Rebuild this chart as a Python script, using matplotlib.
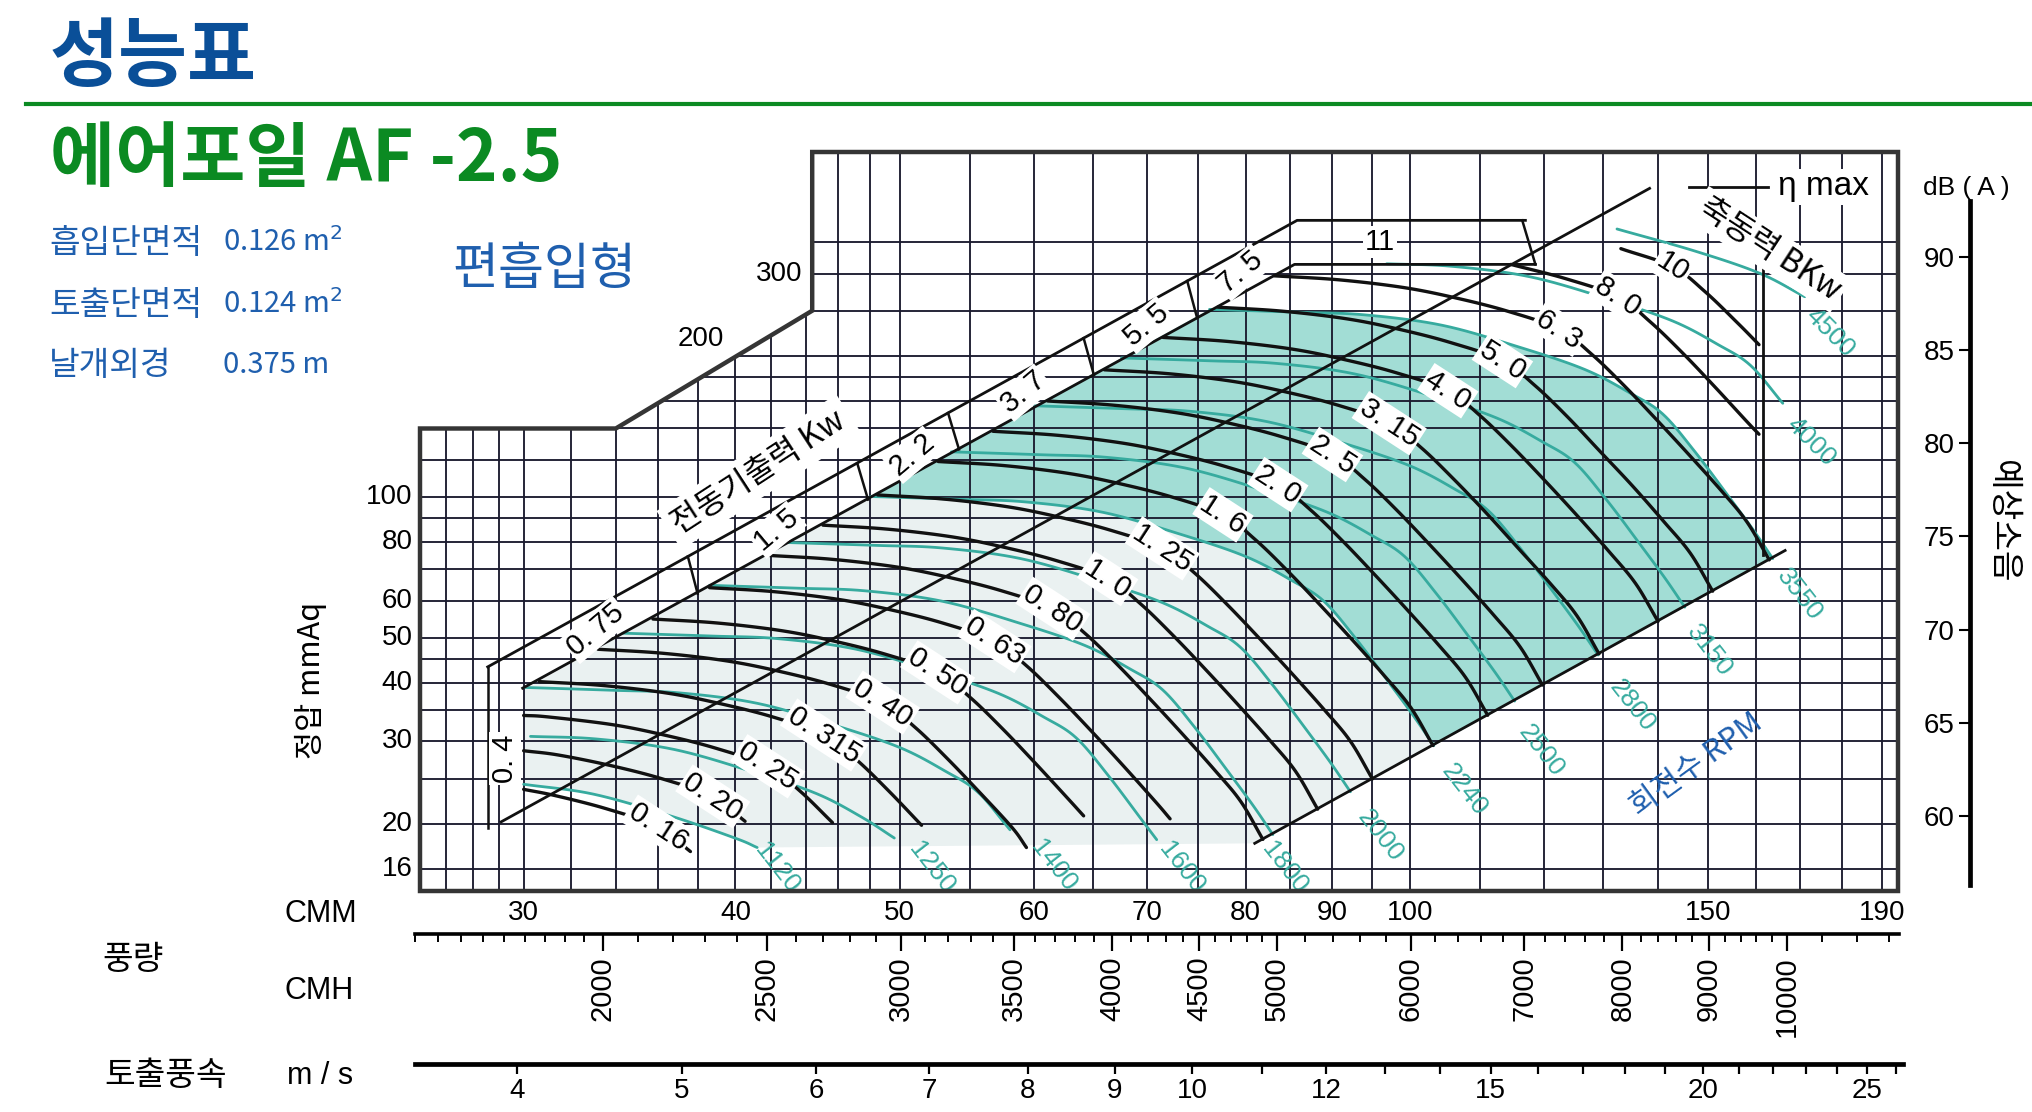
import numpy as np
import matplotlib
matplotlib.use("Agg")
import matplotlib.pyplot as plt
from matplotlib.patches import Polygon
from matplotlib.ticker import NullFormatter

# ---------------- chart data ----------------
grid_q = [27, 28, 29, 30, 32, 34, 36, 38, 40, 42, 44, 46, 48, 50, 55, 60, 65, 70, 75, 80,
          85, 90, 95, 100, 110, 120, 130, 140, 150, 160, 170, 180, 190]
grid_p = [16, 20, 25, 30, 35, 40, 45, 50, 60, 70, 80, 90, 100, 120, 140, 160, 180, 200,
          250, 300, 350]

cmm_ticks = [30, 40, 50, 60, 70, 80, 90, 100, 150, 190]
mmaq_ticks_low = [16, 20, 30, 40, 50, 60, 80, 100]
mmaq_ticks_high = [200, 300]
cmh_major = [2000, 2500, 3000, 3500, 4000, 4500, 5000, 6000, 7000, 8000, 9000, 10000]
cmh_minor = [1550, 1600, 1650, 1700, 1750, 1800, 1850, 1900, 1950, 2100, 2200, 2300, 2400,
             2600, 2700, 2800, 2900, 3100, 3200, 3300, 3400, 3600, 3700, 3800, 3900,
             4100, 4200, 4300, 4400, 4600, 4700, 4800, 4900, 5200, 5400, 5600, 5800,
             6200, 6400, 6600, 6800, 7200, 7400, 7600, 7800, 8200, 8400, 8600, 8800,
             9200, 9400, 9600, 9800, 10500, 11000, 11500]
ms_major = [4, 5, 6, 7, 8, 9, 10, 12, 15, 20, 25]
ms_minor = [11, 13, 14, 16, 17, 18, 19, 21, 22, 23, 24, 26]
db_ticks = [60, 65, 70, 75, 80, 85, 90]

# teal constant-speed curves (RPM): CMM, mmAq
rpm_1120_q = [30.0, 32.98, 36.66, 40.02, 41.2]
rpm_1120_p = [24.3, 23.15, 20.77, 18.62, 17.8]
rpm_1250_q = [30.28, 33.11, 36.81, 40.91, 44.67, 47.50, 49.64]
rpm_1250_p = [30.76, 30.37, 28.84, 25.87, 23.20, 20.66, 18.65]
rpm_1400_q = [30.04, 33.91, 37.08, 41.23, 45.82, 50.03, 53.20, 55.60, 58.09]
rpm_1400_p = [39.14, 38.59, 38.10, 36.18, 32.45, 29.10, 25.92, 23.39, 19.42]
rpm_1600_q = [34.33, 38.76, 42.38, 47.12, 52.36, 57.18, 60.80, 63.54, 66.39, 69.38, 70.9]
rpm_1600_p = [51.12, 50.40, 49.76, 47.25, 42.39, 38.01, 33.85, 30.56, 25.36, 20.53, 18.5]
rpm_1800_q = [38.62, 43.60, 47.68, 53.01, 58.91, 64.32, 68.40, 71.48, 74.69, 78.05, 80.84, 83.02]
rpm_1800_p = [64.70, 63.78, 62.98, 59.80, 53.64, 48.11, 42.84, 38.67, 32.10, 25.98, 21.86, 18.97]
rpm_2000_q = [42.91, 48.45, 52.98, 58.90, 65.46, 71.47, 76.00, 79.42, 82.99, 86.72, 89.82, 92.24]
rpm_2000_p = [79.87, 78.75, 77.75, 73.83, 66.23, 59.39, 52.89, 47.74, 39.63, 32.08, 26.98, 23.42]
rpm_2240_q = [48.06, 54.26, 59.33, 65.96, 73.31, 80.05, 85.12, 88.95, 92.95, 97.13, 100.60, 103.31]
rpm_2240_p = [100.19, 98.78, 97.53, 92.61, 83.08, 74.50, 66.35, 59.89, 49.71, 40.24, 33.85, 29.38]
rpm_2500_q = [53.64, 60.56, 66.22, 73.62, 81.82, 89.34, 95.00, 99.28, 103.74, 108.40, 112.28, 115.30]
rpm_2500_p = [124.8, 123.04, 121.48, 115.36, 103.48, 92.80, 82.64, 74.60, 61.92, 50.12, 42.16, 36.60]
rpm_2800_q = [60.08, 67.83, 74.17, 82.45, 91.64, 100.06, 106.40, 111.19, 116.19, 121.41, 125.75, 129.14]
rpm_2800_p = [156.55, 154.34, 152.38, 144.71, 129.81, 116.41, 103.66, 93.58, 77.67, 62.87, 52.89, 45.91]
rpm_3150_q = [67.59, 76.31, 83.44, 92.76, 103.09, 112.57, 119.70, 125.09, 130.71, 136.58, 141.47, 145.28]
rpm_3150_p = [198.13, 195.34, 192.86, 183.15, 164.28, 147.33, 131.20, 118.44, 98.30, 79.57, 66.93, 58.11]
rpm_3550_q = [76.17, 86.00, 94.03, 104.54, 116.18, 126.86, 134.90, 140.98, 147.31, 153.93, 159.44, 163.73]
rpm_3550_p = [251.65, 248.10, 244.95, 232.61, 208.66, 187.12, 166.64, 150.42, 124.86, 101.06, 85.01, 73.80]
rpm_4000_q = [96.90, 105.95, 117.79, 130.91, 142.94, 152.0, 158.85, 165.98]
rpm_4000_p = [314.98, 311.0, 295.3, 264.9, 237.6, 211.6, 191.0, 158.5]
rpm_4500_q = [132.5, 147.3, 160.8, 171.0]
rpm_4500_p = [373.8, 335.3, 300.7, 267.8]

rpm_names = ["1120", "1250", "1400", "1600", "1800", "2000", "2240", "2500", "2800",
             "3150", "3550", "4000", "4500"]
rpm_label_q = [42.3, 52.2, 61.6, 73.3, 84.3, 96.0, 107.6, 119.6, 135.2, 150.2, 169.8, 172.5, 177.0]
rpm_label_p = [16.1, 16.1, 16.3, 16.1, 16.1, 18.9, 23.6, 28.6, 35.8, 46.9, 61.8, 131.0, 224.0]

# black shaft-power curves (BKw)
bkw_016_q = [30.0, 31.30, 33.57, 36.01, 37.63]
bkw_016_p = [23.7, 22.99, 21.54, 19.72, 17.45]
bkw_020_q = [30.0, 31.42, 33.71, 36.16, 38.79, 40.53]
bkw_020_p = [28.66, 28.08, 26.68, 25.00, 22.88, 20.25]
bkw_025_q = [30.0, 30.99, 33.84, 36.32, 38.96, 41.79, 43.67, 45.64]
bkw_025_p = [34.1, 33.86, 32.59, 30.96, 29.01, 26.55, 23.50, 20.12]
bkw_0315_q = [30.65, 33.47, 36.55, 39.22, 42.08, 45.13, 47.16, 49.29, 51.51]
bkw_0315_p = [40.28, 39.49, 38.01, 36.11, 33.85, 30.97, 27.41, 23.47, 19.86]
bkw_040_q = [33.19, 36.24, 39.58, 42.48, 45.56, 48.87, 51.07, 53.37, 55.78, 58.28, 59.4]
bkw_040_p = [47.23, 46.31, 44.57, 42.35, 39.69, 36.32, 32.14, 27.53, 23.29, 19.60, 17.8]
bkw_050_q = [35.76, 39.04, 42.64, 45.76, 49.08, 52.65, 55.01, 57.50, 60.08, 62.78, 64.2]
bkw_050_p = [54.81, 53.74, 51.72, 49.14, 46.05, 42.15, 37.30, 31.94, 27.03, 22.74, 20.8]
bkw_063_q = [38.62, 42.17, 46.05, 49.42, 53.02, 56.86, 59.42, 62.10, 64.90, 67.81, 70.86, 72.2]
bkw_063_p = [63.95, 62.70, 60.34, 57.33, 53.73, 49.17, 43.51, 37.26, 31.53, 26.53, 22.20, 20.5]
bkw_080_q = [41.82, 45.66, 49.87, 53.52, 57.41, 61.57, 64.34, 67.25, 70.27, 73.43, 76.73, 79.48, 81.90]
bkw_080_p = [74.98, 73.51, 70.75, 67.22, 63.00, 57.65, 51.02, 43.69, 36.97, 31.11, 26.03, 22.32, 18.53]
bkw_100_q = [45.05, 49.19, 53.72, 57.65, 61.84, 66.33, 69.31, 72.44, 75.70, 79.10, 82.66, 85.62, 88.23]
bkw_100_p = [87.0, 85.3, 82.1, 78.0, 73.1, 66.9, 59.2, 50.7, 42.9, 36.1, 30.2, 25.9, 21.5]
bkw_125_q = [48.53, 52.99, 57.87, 62.10, 66.61, 71.45, 74.66, 78.03, 81.54, 85.21, 89.04, 92.23, 95.04]
bkw_125_p = [100.95, 98.98, 95.27, 90.51, 84.83, 77.63, 68.70, 58.83, 49.78, 41.89, 35.04, 30.05, 24.95]
bkw_160_q = [52.69, 57.53, 62.83, 67.43, 72.33, 77.58, 81.07, 84.73, 88.54, 92.52, 96.68, 100.14, 103.19]
bkw_160_p = [119.0, 116.7, 112.3, 106.7, 100.0, 91.52, 80.99, 69.36, 58.69, 49.38, 41.31, 35.43, 29.41]
bkw_200_q = [56.76, 61.97, 67.68, 72.63, 77.91, 83.57, 87.32, 91.27, 95.37, 99.66, 104.14, 107.87, 111.16]
bkw_200_p = [138.1, 135.4, 130.3, 123.8, 116.0, 106.2, 93.97, 80.48, 68.10, 57.31, 47.94, 41.11, 34.13]
bkw_250_q = [61.14, 66.76, 72.91, 78.24, 83.93, 90.02, 94.07, 98.32, 102.74, 107.36, 112.19, 116.20, 119.75]
bkw_250_p = [160.3, 157.1, 151.2, 143.7, 134.6, 123.2, 109.0, 93.39, 79.02, 66.50, 55.63, 47.71, 39.60]
bkw_315_q = [66.03, 72.10, 78.74, 84.50, 90.65, 97.23, 101.6, 106.2, 111.0, 115.9, 121.2, 125.5, 129.3]
bkw_315_p = [186.9, 183.3, 176.4, 167.6, 157.1, 143.7, 127.2, 108.9, 92.17, 77.56, 64.89, 55.65, 46.19]
bkw_400_q = [71.51, 78.08, 85.27, 91.51, 98.17, 105.3, 110.0, 115.0, 120.2, 125.6, 131.2, 135.9, 140.1]
bkw_400_p = [219.2, 214.9, 206.9, 196.5, 184.2, 168.6, 149.2, 127.8, 108.1, 90.96, 76.10, 65.26, 54.18]
bkw_500_q = [77.04, 84.11, 91.86, 98.58, 105.7, 113.4, 118.5, 123.9, 129.4, 135.3, 141.3, 146.4, 150.9]
bkw_500_p = [254.4, 249.4, 240.1, 228.1, 213.7, 195.6, 173.1, 148.2, 125.4, 105.6, 88.30, 75.73, 62.87]
bkw_630_q = [83.20, 90.85, 99.22, 106.5, 114.2, 122.5, 128.0, 133.8, 139.8, 146.1, 152.7, 158.1, 162.95]
bkw_630_p = [296.8, 291.0, 280.1, 266.1, 249.4, 228.2, 201.9, 172.9, 146.3, 123.1, 103.0, 88.35, 73.34]
bkw_800_q = [114.7, 123.7, 132.7, 138.6, 144.9, 151.4, 158.2, 160.7]
bkw_800_p = [314.0, 292.4, 267.6, 236.8, 202.8, 171.6, 144.4, 136.1]
bkw_1000_q = [133.2, 142.9, 149.3, 156.1, 160.7]
bkw_1000_p = [339.3, 310.5, 274.8, 235.3, 211.5]

bkw_names = ["0. 16", "0. 20", "0. 25", "0. 315", "0. 40", "0. 50", "0. 63", "0. 80", "1. 0",
             "1. 25", "1. 6", "2. 0", "2. 5", "3. 15", "4. 0", "5. 0", "6. 3", "8. 0", "10"]
bkw_label_q = [36.01, 38.79, 41.79, 45.13, 48.87, 52.65, 56.86, 61.57, 66.33, 71.45, 77.58,
               83.57, 90.02, 97.23, 105.3, 113.4, 122.5, 132.7, 142.9]
bkw_label_p = [19.72, 22.88, 26.55, 30.97, 36.32, 42.15, 49.17, 57.65, 66.9, 77.63, 91.52,
               106.2, 123.2, 143.7, 168.6, 195.6, 228.2, 267.6, 310.5]

# motor output band (전동기출력 Kw)
motor_names = ["0. 4", "0. 75", "1. 5", "2. 2", "3. 7", "5. 5", "7. 5", "11"]
motor_label_q = [29.25, 33.1, 42.3, 50.9, 59.2, 69.9, 79.5, 96.0]
motor_label_p = [27.6, 52.0, 85.0, 123.0, 167.0, 233.0, 302.0, 350.0]
band_upper_q = [28.57, 85.8, 117.0]
band_upper_p = [43.3, 390.0, 390.0]
band_lower_q = [29.96, 85.5, 118.6]
band_lower_p = [39.0, 314.0, 314.0]
band_tick_q_top = [37.5, 47.2, 53.4, 64.2, 73.9, 116.5]
band_tick_q_bot = [38.0, 47.9, 54.2, 65.1, 74.9, 118.6]
BAND_UP_K = 0.053
BAND_LO_K = 0.043

# other straight lines
eta_q = [29.1, 138.5]
eta_p = [20.2, 456.5]
diag_q = [81.0, 166.5]
diag_p = [18.17, 76.8]

# ---------------- figure geometry ----------------
W, H = 2032, 1112
L, R, T, B = 420, 1898, 152, 891
Q_LEFT, Q_RIGHT, P_BOT, P_TOP = 26.06, 194.1, 14.37, 546.0

KR = ['Noto Sans CJK KR', 'DejaVu Sans']
NUM = ['Liberation Sans', 'DejaVu Sans']
plt.rcParams['font.family'] = KR

BLUE = '#0a4f98'
BLUE2 = '#1f5fae'
GREEN = '#0b8a22'
TEAL = '#37ab9f'
GRID = '#1c1c30'
INK = '#111111'

fig = plt.figure(figsize=(W / 100, H / 100), dpi=100)


def ftext(x, y, s, **kw):
    return fig.text(x / W, 1 - y / H, s, **kw)


def smooth(q, p, n=10):
    x = np.log10(np.asarray(q, float))
    y = np.log10(np.asarray(p, float))
    if len(x) < 3:
        return 10 ** x, 10 ** y
    P = np.column_stack([x, y])
    P = np.vstack([2 * P[0] - P[1], P, 2 * P[-1] - P[-2]])
    out = []
    for i in range(1, len(P) - 2):
        p0, p1, p2, p3 = P[i - 1], P[i], P[i + 1], P[i + 2]
        for t in np.linspace(0, 1, n, endpoint=False):
            out.append(0.5 * (2 * p1 + (-p0 + p2) * t + (2 * p0 - 5 * p1 + 4 * p2 - p3) * t * t
                              + (-p0 + 3 * p1 - 3 * p2 + p3) * t ** 3))
    out.append(P[-2])
    out = np.array(out)
    return 10 ** out[:, 0], 10 ** out[:, 1]


# ---------------- header texts ----------------
ftext(50, 58, '성능표', fontsize=54, fontweight='bold', color=BLUE, va='center', ha='left')
fig.add_artist(plt.Line2D([26 / W, 1.0], [1 - 104 / H, 1 - 104 / H], color=GREEN, lw=3.0))
ftext(50, 160, '에어포일 AF -2.5', fontsize=51, fontweight='bold', color=GREEN, va='center', ha='left')
ftext(49, 243, '흡입단면적', fontsize=24, color=BLUE2, va='center')
ftext(223, 243, '0.126 m$^2$', fontsize=21, color=BLUE2, va='center')
ftext(49, 305, '토출단면적', fontsize=24, color=BLUE2, va='center')
ftext(223, 305, '0.124 m$^2$', fontsize=21, color=BLUE2, va='center')
ftext(49, 365, '날개외경', fontsize=24, color=BLUE2, va='center')
ftext(223, 365, '0.375 m', fontsize=21, color=BLUE2, va='center')
ftext(452, 270, '편흡입형', fontsize=36, color=BLUE2, va='center')

# ---------------- main chart axes ----------------
ax = fig.add_axes([L / W, 1 - B / H, (R - L) / W, (B - T) / H])
ax.set_xscale('log')
ax.set_yscale('log')
ax.set_xlim(Q_LEFT, Q_RIGHT)
ax.set_ylim(P_BOT, P_TOP)
ax.set_axis_off()

frame_q = [Q_LEFT, Q_RIGHT, Q_RIGHT, 44.4, 44.4, 34.0, Q_LEFT]
frame_p = [P_BOT, P_BOT, P_TOP, P_TOP, 250.0, 140.0, 140.0]
frame_xy = np.column_stack([frame_q, frame_p])
clip_poly = Polygon(frame_xy, closed=True, transform=ax.transData, fc='none', ec='none')
ax.add_patch(clip_poly)


def clipped(artists):
    for a in artists:
        a.set_clip_path(clip_poly)
    return artists


# light stippled area and teal operating area
light_q = ([30.0, 30.0] + rpm_2240_q + [diag_q[0]] + rpm_1120_q[::-1])
light_p = ([rpm_1120_p[0], BAND_LO_K * 30.0 ** 2] + rpm_2240_p + [diag_p[0]] + rpm_1120_p[::-1])
ax.add_patch(Polygon(np.column_stack([light_q, light_p]), closed=True,
                     fc='#eaf1f1', ec='none', zorder=1))
s24 = smooth(rpm_2240_q, rpm_2240_p)
s35 = smooth(rpm_3550_q, rpm_3550_p)
shade = np.column_stack([np.r_[s24[0], s35[0][::-1]], np.r_[s24[1], s35[1][::-1]]])
ax.add_patch(Polygon(shade, closed=True, fc='#a2ddd5', ec='none', zorder=1.2))

# grid
for q in grid_q:
    clipped(ax.plot([q, q], [P_BOT, P_TOP], color=GRID, lw=1.35, zorder=2))
for p in grid_p:
    clipped(ax.plot([Q_LEFT, Q_RIGHT], [p, p], color=GRID, lw=1.35, zorder=2))

# teal rpm curves
rpm_curves = [(rpm_1120_q, rpm_1120_p), (rpm_1250_q, rpm_1250_p), (rpm_1400_q, rpm_1400_p),
              (rpm_1600_q, rpm_1600_p), (rpm_1800_q, rpm_1800_p), (rpm_2000_q, rpm_2000_p),
              (rpm_2240_q, rpm_2240_p), (rpm_2500_q, rpm_2500_p), (rpm_2800_q, rpm_2800_p),
              (rpm_3150_q, rpm_3150_p), (rpm_3550_q, rpm_3550_p), (rpm_4000_q, rpm_4000_p),
              (rpm_4500_q, rpm_4500_p)]
for q, p in rpm_curves:
    clipped(ax.plot(*smooth(q, p), color=TEAL, lw=2.0, zorder=3, solid_capstyle='round'))
for name, q, p in zip(rpm_names, rpm_label_q, rpm_label_p):
    rot = -45 if name in ("4000", "4500") else -52
    ax.text(q, p, name, color=TEAL, fontsize=19, family=NUM, rotation=rot,
            ha='center', va='center', zorder=5)

# black BKw curves
bkw_curves = [(bkw_016_q, bkw_016_p), (bkw_020_q, bkw_020_p), (bkw_025_q, bkw_025_p),
              (bkw_0315_q, bkw_0315_p), (bkw_040_q, bkw_040_p), (bkw_050_q, bkw_050_p),
              (bkw_063_q, bkw_063_p), (bkw_080_q, bkw_080_p), (bkw_100_q, bkw_100_p),
              (bkw_125_q, bkw_125_p), (bkw_160_q, bkw_160_p), (bkw_200_q, bkw_200_p),
              (bkw_250_q, bkw_250_p), (bkw_315_q, bkw_315_p), (bkw_400_q, bkw_400_p),
              (bkw_500_q, bkw_500_p), (bkw_630_q, bkw_630_p), (bkw_800_q, bkw_800_p),
              (bkw_1000_q, bkw_1000_p)]
for q, p in bkw_curves:
    clipped(ax.plot(*smooth(q, p), color=INK, lw=2.4, zorder=3.5, solid_capstyle='round'))
white_box = dict(fc='white', ec='none', pad=1.5)
for name, q, p in zip(bkw_names, bkw_label_q, bkw_label_p):
    ax.text(q, p, name, fontsize=21, family=NUM, rotation=-33, ha='center', va='center',
            zorder=5, bbox=white_box)

# motor-output band
ax.plot(band_upper_q, band_upper_p, color=INK, lw=2.0, zorder=4)
ax.plot(band_lower_q, band_lower_p, color=INK, lw=2.0, zorder=4)
for qt, qb in zip(band_tick_q_top[:-1], band_tick_q_bot[:-1]):
    ax.plot([qt, qb], [BAND_UP_K * qt ** 2, BAND_LO_K * qb ** 2], color=INK, lw=1.8, zorder=4)
ax.plot([band_tick_q_top[-1], band_tick_q_bot[-1]], [band_upper_p[-1], band_lower_p[-1]],
        color=INK, lw=1.8, zorder=4)
ax.plot([band_upper_q[0], band_upper_q[0]], [eta_p[0] * 0.97, band_upper_p[0]], color=INK, lw=1.8, zorder=4)
for name, q, p in zip(motor_names, motor_label_q, motor_label_p):
    rot = 90 if name == "0. 4" else (0 if name == "11" else 40)
    ax.text(q, p, name, fontsize=21, family=NUM, rotation=rot, ha='center', va='center',
            zorder=5, bbox=white_box)
ax.text(41.3, 113.0, '전동기출력 Kw', fontsize=23, rotation=33, ha='center', va='center',
        zorder=5, bbox=dict(fc='white', ec='none', pad=5))

# eta max line, operating boundary lines
ax.plot(eta_q, eta_p, color=INK, lw=2.0, zorder=4)
ax.plot([146.2, 162.7], [460, 460], color=INK, lw=2.0, zorder=4)
ax.text(165.0, 460, 'η max', fontsize=24, family=NUM, ha='left', va='center', zorder=5,
        bbox=dict(fc='white', ec='none', pad=2))
ax.plot(diag_q, diag_p, color=INK, lw=2.0, zorder=4)
ax.plot([161.6, 161.6], [75.0, 322.0], color=INK, lw=2.0, zorder=4)
ax.text(163.0, 338, '축동력 BKw', fontsize=23, rotation=-33, ha='center', va='center',
        zorder=5, bbox=dict(fc='white', ec='none', pad=3))
ax.text(147.7, 26.7, '회전수 RPM', fontsize=22, rotation=36, color=BLUE2, ha='center',
        va='center', zorder=5)

# frame outline
ax.add_patch(Polygon(frame_xy, closed=True, fill=False, ec='#353535', lw=3.2, zorder=6,
                     clip_on=False))

# mmAq labels
for p in mmaq_ticks_low:
    ax.text(25.8, p, str(p), fontsize=20, family=NUM, ha='right', va='center')
ax.text(43.8, 300, '300', fontsize=20, family=NUM, ha='right', va='center')
ax.text(39.4, 218, '200', fontsize=20, family=NUM, ha='right', va='center')
ftext(311, 680, '정압 mmAq', fontsize=22, rotation=90, ha='center', va='center')

# ---------------- CMM label row ----------------
ax_cmm = fig.add_axes([L / W, 1 - 893 / H, (R - L) / W, 0.0001])
ax_cmm.set_xscale('log')
ax_cmm.set_xlim(Q_LEFT, Q_RIGHT)
for s in ax_cmm.spines.values():
    s.set_visible(False)
ax_cmm.set_yticks([])
ax_cmm.set_xticks(cmm_ticks)
ax_cmm.set_xticklabels([str(v) for v in cmm_ticks], family=NUM, fontsize=20)
ax_cmm.xaxis.set_minor_formatter(NullFormatter())
ax_cmm.set_xticks([], minor=True)
ax_cmm.tick_params(axis='x', which='major', length=0, pad=5)

# ---------------- CMH scale ----------------
ax_cmh = fig.add_axes([415 / W, 1 - 934 / H, (1899 - 415) / W, 0.0001])
ax_cmh.set_xscale('log')
ax_cmh.set_xlim(25.90 * 60, 194.2 * 60)
for k in ['left', 'right', 'top']:
    ax_cmh.spines[k].set_visible(False)
ax_cmh.spines['bottom'].set_linewidth(2.6)
ax_cmh.set_yticks([])
ax_cmh.set_xticks(cmh_major)
ax_cmh.set_xticklabels([str(v) for v in cmh_major], rotation=90, family=NUM, fontsize=21)
ax_cmh.set_xticks(cmh_minor, minor=True)
ax_cmh.xaxis.set_minor_formatter(NullFormatter())
ax_cmh.tick_params(axis='x', which='major', length=12, width=1.6, pad=4)
ax_cmh.tick_params(axis='x', which='minor', length=6, width=1.4)

# ---------------- m/s scale ----------------
ax_ms = fig.add_axes([415 / W, 1 - 1064 / H, (1903 - 415) / W, 0.0001])
ax_ms.set_xscale('log')
ax_ms.set_xlim(25.90 / 7.44, 195.3 / 7.44)
for k in ['left', 'right', 'top']:
    ax_ms.spines[k].set_visible(False)
ax_ms.spines['bottom'].set_linewidth(3.4)
ax_ms.set_yticks([])
ax_ms.set_xticks(ms_major)
ax_ms.set_xticklabels([str(v) for v in ms_major], family=NUM, fontsize=20)
ax_ms.set_xticks(ms_minor, minor=True)
ax_ms.xaxis.set_minor_formatter(NullFormatter())
ax_ms.tick_params(axis='x', which='major', length=7, width=1.6, pad=3)
ax_ms.tick_params(axis='x', which='minor', length=7, width=1.6)

ftext(133, 959, '풍량', fontsize=24, ha='center', va='center')
ftext(285, 914, 'CMM', fontsize=22, family=NUM, ha='left', va='center')
ftext(285, 991, 'CMH', fontsize=22, family=NUM, ha='left', va='center')
ftext(104, 1076, '토출풍속', fontsize=24, ha='left', va='center')
ftext(287, 1076, 'm / s', fontsize=22, family=NUM, ha='left', va='center')

# ---------------- dB(A) scale ----------------
ax_db = fig.add_axes([1970 / W, 1 - 885 / H, 0.0001, (885 - 201) / H])
ax_db.set_ylim(56.32, 92.98)
for k in ['bottom', 'right', 'top']:
    ax_db.spines[k].set_visible(False)
ax_db.spines['left'].set_linewidth(3.4)
ax_db.set_xticks([])
ax_db.set_yticks(db_ticks)
ax_db.set_yticklabels([str(v) for v in db_ticks], family=NUM, fontsize=20)
ax_db.tick_params(axis='y', length=8, width=1.5, pad=3)
ftext(1966, 188, 'dB ( A )', fontsize=19, family=NUM, ha='center', va='center')
ftext(2003, 521, '예상소음', fontsize=24, rotation=270, ha='center', va='center')

fig.savefig('out.png', dpi=100)
